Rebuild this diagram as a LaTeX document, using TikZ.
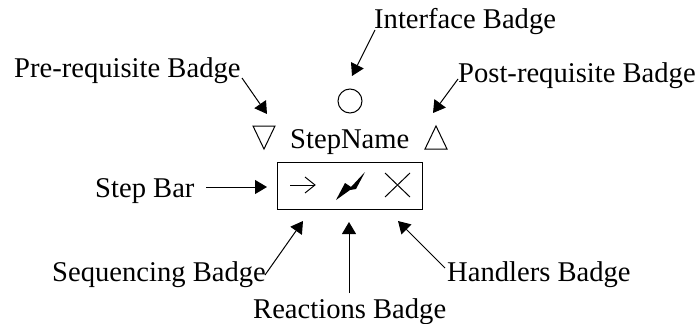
\documentclass[tikz,border=0pt]{standalone}
\usepackage{fontspec}
\setmainfont{Liberation Serif}
\usetikzlibrary{arrows.meta}
\tikzset{
  lbl/.style={anchor=base west, inner sep=0pt, font=\fontsize{28.6}{30}\selectfont},
  conn/.style={line width=1pt, -{Triangle[length=12pt,width=14pt]}},
  glyph/.style={line width=1pt},
}
\begin{document}
\begin{tikzpicture}[x=1pt,y=-1pt]
\useasboundingbox (0,0) rectangle (699,324);
% labels
\node[lbl] (iflbl) at (374,28) {Interface Badge};
\node[lbl] (prelbl) at (14,77) {Pre-requisite Badge};
\node[lbl] (postlbl) at (458,82) {Post-requisite Badge};
\node[lbl] (step) at (290,148) {StepName};
\node[lbl] (barlbl) at (95,197) {Step Bar};
\node[lbl] (seqlbl) at (52,281) {Sequencing Badge};
\node[lbl] (reactlbl) at (253,318) {Reactions Badge};
\node[lbl] (handlbl) at (447,281) {Handlers Badge};
% badges
\node[circle, draw, line width=1pt, minimum size=24pt, inner sep=0pt] (iface) at (350,101) {};
\draw[glyph] (253,126) -- (275,126) -- (264,149) -- cycle;
\draw[glyph] (425,149) -- (447,149) -- (436,126) -- cycle;
% step bar
\node[draw, line width=1pt, minimum width=145pt, minimum height=47pt, inner sep=0pt] (bar) at (349.5,185.5) {};
% sequencing arrow glyph
\draw[glyph] (290,185) -- (315,185);
\draw[glyph] (305,177) -- (315,185) -- (305,193);
% lightning
\fill (336,200) -- (345,183) -- (351,187) -- (365,172) -- (356,189) -- (350,190) -- cycle;
% handlers cross
\draw[glyph] (385,173) -- (410,197);
\draw[glyph] (385,197) -- (410,173);
% connector end points
\coordinate (iftail) at (375,30);
\coordinate (iftip) at (352,76);
\coordinate (pretail) at (242,78);
\coordinate (pretip) at (267,114);
\coordinate (posttail) at (458,79);
\coordinate (posttip) at (433,113);
\coordinate (bartail) at (206,187);
\coordinate (bartip) at (267,187);
\coordinate (seqtail) at (265,275);
\coordinate (seqtip) at (303,221);
\coordinate (reacttail) at (349,293);
\coordinate (reacttip) at (349,222);
\coordinate (handtail) at (445,268);
\coordinate (handtip) at (398,221);
% connectors
\draw[conn] (iftail) -- (iftip);
\draw[conn] (pretail) -- (pretip);
\draw[conn] (posttail) -- (posttip);
\draw[conn] (bartail) -- (bartip);
\draw[conn] (seqtail) -- (seqtip);
\draw[conn] (reacttail) -- (reacttip);
\draw[conn] (handtail) -- (handtip);
\end{tikzpicture}
\end{document}
